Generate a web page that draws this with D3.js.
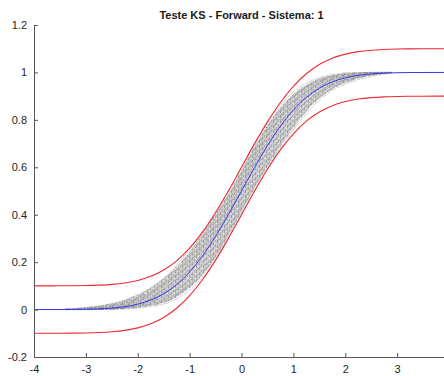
<!DOCTYPE html>
<html>
<head>
<meta charset="utf-8">
<script src="https://cdn.jsdelivr.net/npm/d3@7"></script>
<style>
  body { margin: 0; background: #fff; }
  svg { display: block; font-family: 'Liberation Sans', Arial, sans-serif; }
  .axis text { fill: #262626; font-size: 11px; }
  .axis line, .axis path { stroke: #555; }
</style>
</head>
<body>
<svg id="ks"></svg>
<script>
// reference CDF (blue)
const cdfX = [-4, -3.75, -3.5, -3.25, -3, -2.75, -2.5, -2.25, -2, -1.75, -1.5, -1.25, -1, -0.75, -0.5, -0.25,
  0, 0.25, 0.5, 0.75, 1, 1.25, 1.5, 1.75, 2, 2.25, 2.5, 2.75, 3, 3.25, 3.5, 3.75, 4]
const cdfY = [0, 0.0001, 0.0002, 0.0006, 0.0013, 0.003, 0.0062, 0.0122, 0.0228, 0.0401, 0.0668, 0.1056, 0.1587, 0.2266, 0.3085, 0.4013,
  0.5, 0.5987, 0.6915, 0.7734, 0.8413, 0.8944, 0.9332, 0.9599, 0.9772, 0.9878, 0.9938, 0.997, 0.9987, 0.9994, 0.9998, 0.9999, 1]
// KS limits (red)
const upperY = [0.1, 0.1001, 0.1002, 0.1006, 0.1013, 0.103, 0.1062, 0.1122, 0.1228, 0.1401, 0.1668, 0.2056, 0.2587, 0.3266, 0.4085, 0.5013,
  0.6, 0.6987, 0.7915, 0.8734, 0.9413, 0.9944, 1.0332, 1.0599, 1.0772, 1.0878, 1.0938, 1.097, 1.0987, 1.0994, 1.0998, 1.0999, 1.1]
const lowerY = [-0.1, -0.0999, -0.0998, -0.0994, -0.0987, -0.097, -0.0938, -0.0878, -0.0772, -0.0599, -0.0332, 0.0056, 0.0587, 0.1266, 0.2085, 0.3013,
  0.4, 0.4987, 0.5915, 0.6734, 0.7413, 0.7944, 0.8332, 0.8599, 0.8772, 0.8878, 0.8938, 0.897, 0.8987, 0.8994, 0.8998, 0.8999, 0.9]

// empirical CDFs (grey)
const simX = [-3.4, -3.0, -2.6, -2.2, -1.8, -1.4, -1.0, -0.6, -0.2, 0.2, 0.6, 1.0, 1.4, 1.8, 2.2, 2.6, 2.9]
const bandLo = [0, 0, 0.001, 0.004, 0.014, 0.035, 0.09, 0.185, 0.33, 0.49, 0.635, 0.765, 0.87, 0.935, 0.97, 0.99, 0.998]
const bandHi = [0.004, 0.01, 0.022, 0.045, 0.085, 0.15, 0.245, 0.37, 0.51, 0.67, 0.81, 0.91, 0.965, 0.99, 0.998, 1, 1]
const sims = [
  [0, 0.002, 0.006, 0.02, 0.05, 0.10, 0.19, 0.31, 0.45, 0.61, 0.76, 0.87, 0.94, 0.975, 0.99, 1, 1],
  [0, 0, 0.003, 0.01, 0.03, 0.065, 0.13, 0.24, 0.39, 0.55, 0.70, 0.82, 0.905, 0.955, 0.98, 0.995, 1],
  [0, 0.004, 0.012, 0.03, 0.065, 0.125, 0.215, 0.335, 0.48, 0.64, 0.785, 0.895, 0.955, 0.985, 0.997, 1, 1],
  [0, 0, 0.002, 0.008, 0.022, 0.05, 0.11, 0.21, 0.36, 0.52, 0.67, 0.80, 0.89, 0.95, 0.978, 0.993, 1],
  [0.002, 0.006, 0.015, 0.035, 0.07, 0.135, 0.23, 0.355, 0.495, 0.655, 0.80, 0.90, 0.96, 0.988, 0.998, 1, 1],
  [0, 0.001, 0.004, 0.012, 0.04, 0.09, 0.17, 0.29, 0.43, 0.595, 0.74, 0.855, 0.93, 0.97, 0.99, 0.998, 1],
  [0, 0, 0.001, 0.006, 0.018, 0.042, 0.10, 0.195, 0.345, 0.50, 0.65, 0.78, 0.88, 0.94, 0.975, 0.992, 0.999],
  [0, 0.003, 0.009, 0.025, 0.058, 0.115, 0.20, 0.32, 0.465, 0.625, 0.77, 0.88, 0.948, 0.98, 0.995, 1, 1],
  [0.003, 0.008, 0.02, 0.044, 0.086, 0.152, 0.255, 0.38, 0.52, 0.68, 0.818, 0.918, 0.97, 0.993, 1, 1, 1],
  [0, 0, 0, 0.003, 0.011, 0.03, 0.082, 0.176, 0.322, 0.482, 0.628, 0.758, 0.862, 0.93, 0.966, 0.987, 0.997]
]

const xTicks = [-4, -3, -2, -1, 0, 1, 2, 3]
const xTickLabels = ['-4', '-3', '-2', '-1', '0', '1', '2', '3']
const yTicks = [-0.2, 0, 0.2, 0.4, 0.6, 0.8, 1, 1.2]
const yTickLabels = ['-0.2', '0', '0.2', '0.4', '0.6', '0.8', '1', '1.2']

const W = 444
const H = 376
const margin = { top: 25, left: 34, right: -5, bottom: 19 }

const svg = d3.select('#ks').attr('width', W).attr('height', H)

const xScale = d3.scaleLinear().domain([-4, 4]).range([margin.left, W - margin.right])
const yScale = d3.scaleLinear().domain([-0.2, 1.2]).range([H - margin.bottom, margin.top])

// speckled texture for the grey band
const defs = svg.append('defs')
const pat = defs.append('pattern')
  .attr('id', 'noise')
  .attr('width', 7).attr('height', 5)
  .attr('patternUnits', 'userSpaceOnUse')
pat.append('rect').attr('width', 7).attr('height', 5).attr('fill', '#c4c4c4')
pat.append('rect').attr('x', 0).attr('y', 0).attr('width', 1).attr('height', 3).attr('fill', '#8c8c8c')
pat.append('rect').attr('x', 3).attr('y', 2).attr('width', 1).attr('height', 3).attr('fill', '#979797')
pat.append('rect').attr('x', 5).attr('y', 0).attr('width', 1).attr('height', 2).attr('fill', '#a2a2a2')
pat.append('rect').attr('x', 1).attr('y', 4).attr('width', 2).attr('height', 1).attr('fill', '#9e9e9e')
pat.append('rect').attr('x', 6).attr('y', 3).attr('width', 1).attr('height', 1).attr('fill', '#e6e6e6')
pat.append('rect').attr('x', 2).attr('y', 1).attr('width', 1).attr('height', 1).attr('fill', '#e0e0e0')

const band = d3.area()
  .x((d, i) => xScale(simX[i]))
  .y0((d, i) => yScale(bandLo[i]))
  .y1((d, i) => yScale(bandHi[i]))
  .curve(d3.curveMonotoneX)

svg.append('path')
  .datum(simX)
  .attr('d', band)
  .attr('fill', 'url(#noise)')
  .attr('opacity', 0.8)

const simLine = d3.line()
  .x((d, i) => xScale(simX[i]))
  .y(d => yScale(d))
  .curve(d3.curveMonotoneX)

svg.append('g')
  .selectAll('path')
  .data(sims)
  .enter()
  .append('path')
  .attr('d', simLine)
  .attr('fill', 'none')
  .attr('stroke', '#808080')
  .attr('stroke-width', 0.6)
  .attr('stroke-dasharray', '6,1,3,1')
  .attr('opacity', 0.65)

// red limits and blue cdf
const curve = ys => d3.line()
  .x((d, i) => xScale(cdfX[i]))
  .y(d => yScale(d))
  .curve(d3.curveMonotoneX)(ys)

svg.append('path').attr('d', curve(upperY))
  .attr('fill', 'none').attr('stroke', '#ee2a36').attr('stroke-width', 1.1)
svg.append('path').attr('d', curve(lowerY))
  .attr('fill', 'none').attr('stroke', '#ee2a36').attr('stroke-width', 1.1)
svg.append('path').attr('d', curve(cdfY))
  .attr('fill', 'none').attr('stroke', '#3434ee').attr('stroke-width', 1)

// axes, ticks point inward
const xAxis = d3.axisBottom(xScale)
  .tickValues(xTicks)
  .tickFormat((d, i) => xTickLabels[i])
  .tickSizeInner(-4)
  .tickSizeOuter(0)
  .tickPadding(8)

svg.append('g')
  .attr('class', 'axis x-axis')
  .attr('transform', 'translate(0,' + (H - margin.bottom) + ')')
  .call(xAxis)

const yAxis = d3.axisLeft(yScale)
  .tickValues(yTicks)
  .tickFormat((d, i) => yTickLabels[i])
  .tickSizeInner(-4)
  .tickSizeOuter(0)
  .tickPadding(7)

svg.append('g')
  .attr('class', 'axis y-axis')
  .attr('transform', 'translate(' + margin.left + ',0)')
  .call(yAxis)

svg.append('text')
  .attr('x', (margin.left + W - margin.right) / 2)
  .attr('y', 19)
  .attr('text-anchor', 'middle')
  .attr('font-size', 11)
  .attr('font-weight', 'bold')
  .attr('fill', '#1a1a1a')
  .text('Teste KS - Forward - Sistema: 1')
</script>
</body>
</html>
